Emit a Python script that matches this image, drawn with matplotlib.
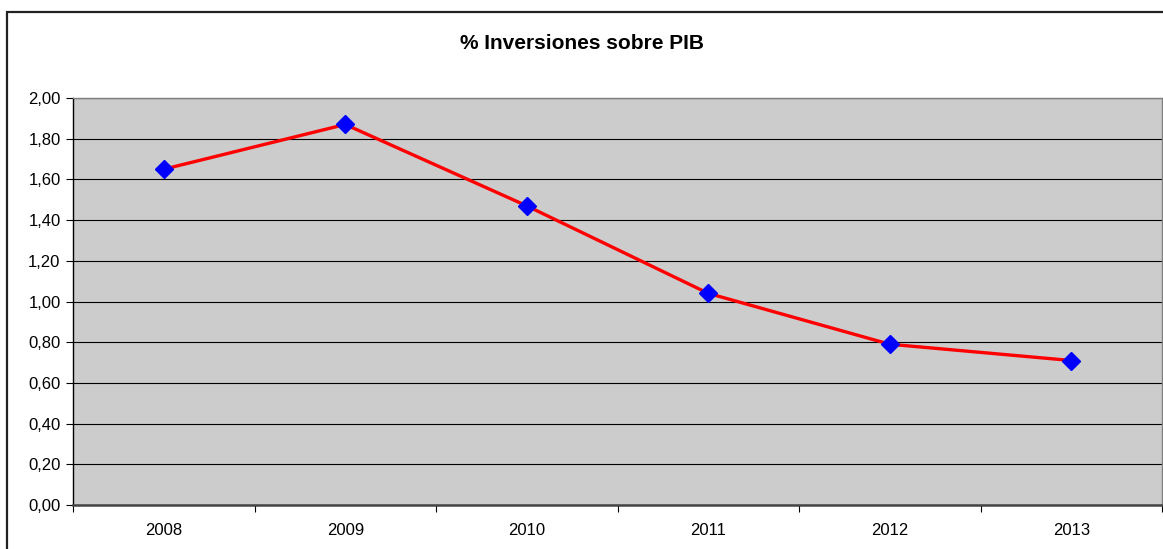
import matplotlib.pyplot as plt
from matplotlib.patches import Rectangle
from matplotlib.ticker import FixedLocator, FuncFormatter

plt.rcParams['font.family'] = ['Liberation Sans', 'DejaVu Sans']

# Data
years = ['2008', '2009', '2010', '2011', '2012', '2013']
pct_pib = [1.65, 1.87, 1.47, 1.04, 0.79, 0.71]

fig = plt.figure(figsize=(11.63, 5.49), dpi=100)
ax = fig.add_axes([73 / 1163, 1 - 505 / 549, (1162 - 73) / 1163, (505 - 98) / 549])

# Outer chart border (Excel-style)
fig.patches.append(Rectangle((7 / 1163, -0.05), 1.2, 1 - 12 / 549 + 0.05,
                             transform=fig.transFigure, fill=False,
                             edgecolor='#222222', linewidth=1.6))

ax.set_facecolor('#CCCCCC')
x = range(len(years))
ax.plot(x, pct_pib, color='#FF0000', linewidth=2.4, zorder=3)
ax.plot(x, pct_pib, linestyle='', marker='D', markersize=9,
        color='#0000FF', zorder=4)

ax.set_xlim(-0.5, len(years) - 0.5)
ax.set_ylim(0, 2.0)
ax.set_yticks([i * 0.2 for i in range(11)])
ax.yaxis.set_major_formatter(FuncFormatter(lambda v, p: f'{v:.2f}'.replace('.', ',')))
ax.grid(axis='y', color='black', linewidth=0.8)
ax.set_axisbelow(True)

# categories centred, ticks at the boundaries
ax.set_xticks([i - 0.5 for i in range(len(years) + 1)])
ax.set_xticklabels([])
ax.xaxis.set_minor_locator(FixedLocator(list(x)))
ax.set_xticklabels(years, minor=True)
ax.tick_params(axis='x', which='minor', length=0, pad=13, labelsize=12)
ax.tick_params(axis='x', which='major', length=5, direction='out', width=0.8)
ax.tick_params(axis='y', length=5, direction='out', width=0.8, labelsize=12, pad=4)

ax.spines['left'].set_color('black')
ax.spines['left'].set_linewidth(1.0)
ax.spines['bottom'].set_color('#444444')
ax.spines['bottom'].set_linewidth(1.8)
ax.spines['top'].set_color('#808080')
ax.spines['top'].set_linewidth(1.0)
ax.spines['right'].set_color('#808080')
ax.spines['right'].set_linewidth(1.0)

fig.text(0.5, 1 - 44 / 549, '% Inversiones sobre PIB', ha='center', va='center',
         fontsize=15, fontweight='bold')

fig.savefig('out.png', dpi=100)
